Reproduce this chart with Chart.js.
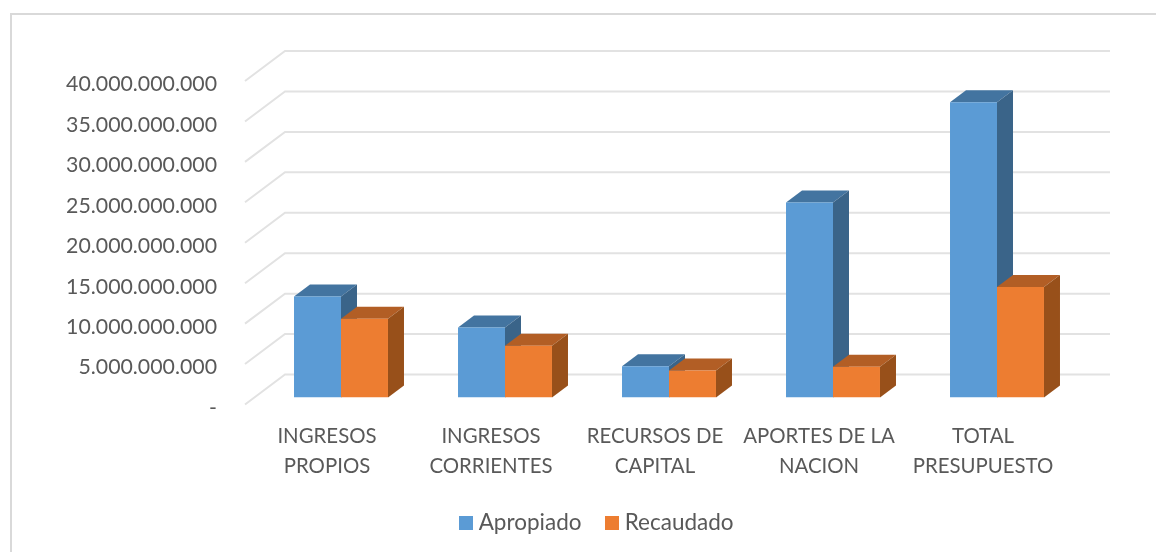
<!DOCTYPE html>
<html><head><meta charset="utf-8">
<style>html,body{margin:0;padding:0;background:#fff}#w{position:relative;width:1156px;height:552px}canvas{filter:blur(0.35px)}</style>
<script src="https://cdn.jsdelivr.net/npm/chart.js@4"></script>
</head><body><div id="w"><canvas id="c" width="1156" height="552"></canvas></div>
<script>
const categories=[["INGRESOS","PROPIOS"],["INGRESOS","CORRIENTES"],["RECURSOS DE","CAPITAL"],["APORTES DE LA","NACION"],["TOTAL","PRESUPUESTO"]];
const apropiado=[12500000000,8650000000,3850000000,24100000000,36500000000];
const recaudado=[9750000000,6400000000,3350000000,3800000000,13650000000];
const seriesNames=["Apropiado","Recaudado"];
const colorsFront=["#5B9BD5","#ED7D31"];
const colorsTop=["#4374A0","#B25E25"];
const colorsSide=["#3A6489","#98501A"];
const FONT='Lato, "Open Sans", sans-serif';
const DX=16,DY=12;
function swatch(col){
 const s=document.createElement('canvas');s.width=14;s.height=14;
 const x=s.getContext('2d');x.fillStyle=col;x.fillRect(0,0,14,14);return s;
}
const wall={
 id:'wall',
 afterLayout(ch){ch.legend.left+=60;ch.legend.right+=60;},
 beforeDatasetsDraw(ch){
  const y=ch.scales.y,c=ch.ctx;
  c.save();c.strokeStyle='#D9D9D9';c.lineWidth=2;
  c.beginPath();c.moveTo(11,552);c.lineTo(11,14);c.lineTo(1156,14);c.stroke();
  y.ticks.forEach(t=>{
   const py=y.getPixelForValue(t.value);
   const back=py-23, front=py+7;
   c.lineWidth=2;c.strokeStyle='#E2E2E2';
   c.beginPath();c.moveTo(245,front);c.lineTo(285,back);c.lineTo(1110,back);c.stroke();
  });
  ch.data.datasets.forEach((d,i)=>{
   ch.getDatasetMeta(i).data.forEach(b=>{
    const L=b.x-b.width/2,R=b.x+b.width/2,T=b.y,B=b.base;
    c.fillStyle=colorsTop[i];
    c.beginPath();c.moveTo(L,T);c.lineTo(L+DX,T-DY);c.lineTo(R+DX,T-DY);c.lineTo(R,T);c.closePath();c.fill();
    c.fillStyle=colorsSide[i];
    c.beginPath();c.moveTo(R,T);c.lineTo(R+DX,T-DY);c.lineTo(R+DX,B-DY);c.lineTo(R,B);c.closePath();c.fill();
   });
  });
  c.restore();
 }
};
new Chart(document.getElementById('c'),{
 type:'bar',
 data:{labels:categories,datasets:[
  {label:seriesNames[0],data:apropiado,backgroundColor:colorsFront[0]},
  {label:seriesNames[1],data:recaudado,backgroundColor:colorsFront[1]}]},
 plugins:[wall],
 options:{responsive:false,animation:false,
  layout:{padding:{top:74,right:77,bottom:8,left:0}},
  datasets:{bar:{barPercentage:1,categoryPercentage:0.573}},
  plugins:{legend:{position:'bottom',labels:{usePointStyle:true,pointStyleWidth:2,boxHeight:14,color:'#595959',font:{family:FONT,size:22.5},padding:30,
     generateLabels(ch){return ch.data.datasets.map((d,i)=>({text:d.label,datasetIndex:i,fontColor:'#595959',pointStyle:swatch(colorsFront[i]),fillStyle:colorsFront[i],strokeStyle:colorsFront[i],lineWidth:0}))}}},tooltip:{enabled:false}},
  scales:{
   x:{grid:{display:false,drawTicks:false},border:{display:false},
      afterFit(s){s.height=84},
      ticks:{maxRotation:0,minRotation:0,autoSkip:false,color:'#595959',labelOffset:-14,padding:24,font:{family:FONT,size:20.4,lineHeight:1.47}}},
   y:{min:0,max:40000000000,grid:{display:false,drawTicks:false},border:{display:false},
      afterFit(s){s.width=259},
      afterBuildTicks(s){s.ticks=[0,5,10,15,20,25,30,35,40].map(v=>({value:v*1e9}))},
      ticks:{color:'#595959',labelOffset:10.5,padding:42,font:{family:FONT,size:21.3},
       callback(v){return v===0?'-':String(v).replace(/\B(?=(\d{3})+$)/g,'.')}}}
  }
 }
});
</script></body></html>
